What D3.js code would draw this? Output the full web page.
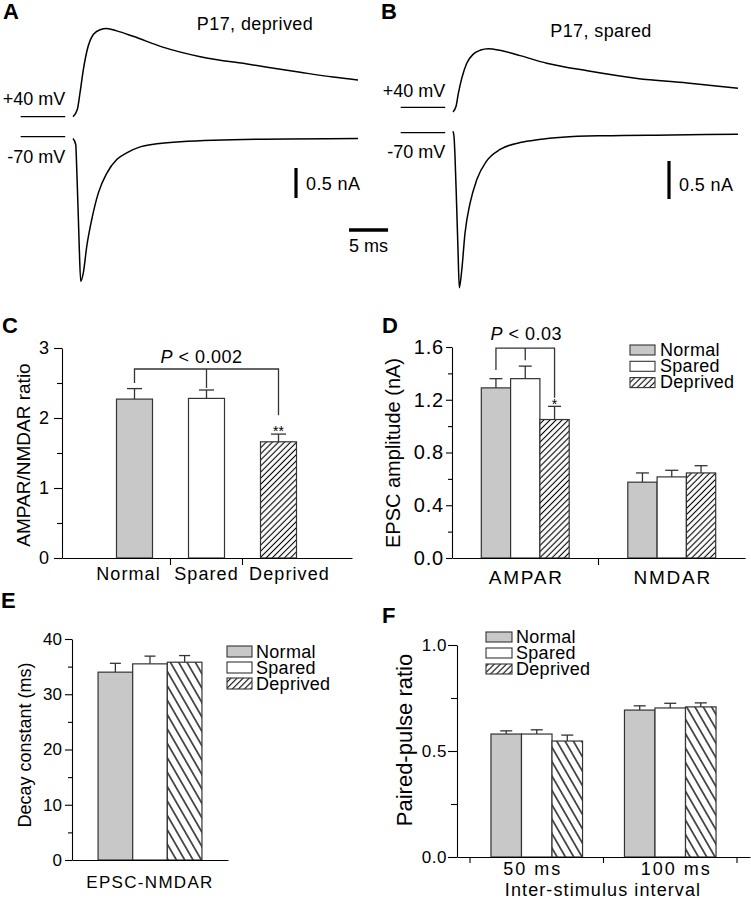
<!DOCTYPE html>
<html><head><meta charset="utf-8">
<script src="https://cdn.jsdelivr.net/npm/d3@7"></script>
<style>
body{margin:0;background:#fff}
svg{display:block}
text{font-family:Arial,"Liberation Sans",Helvetica,sans-serif;fill:#000}
</style>
</head><body>
<svg id="c" width="751" height="899"></svg>
<script>
// ---------------- DATA ----------------
const groups = ["Normal", "Spared", "Deprived"];

// Panel A traces: [time (ms), current (nA)]
const traceA_p40 = [[0,0],[0.55,0.12],[0.9,0.40],[1.32,0.78],[1.83,1.12],[2.6,1.37],[3.46,1.45],[4.32,1.47],[5.6,1.43],[7.7,1.34],[11.5,1.16],[16.3,1.0],[22.7,0.87],[29.1,0.74],[33.3,0.66],[36.5,0.61]];
const traceA_m70 = [[0,-0.03],[0.35,-0.13],[0.47,-0.50],[0.68,-1.33],[0.81,-1.88],[0.99,-2.41],[1.32,-2.27],[1.76,-1.83],[2.40,-1.38],[3.24,-0.94],[4.32,-0.61],[5.6,-0.38],[6.88,-0.27],[8.6,-0.17],[12.05,-0.10],[20.5,-0.05],[36.5,-0.03]];
// Panel B traces
const traceB_p40 = [[0,-0.06],[0.38,0.01],[0.68,0.18],[1.12,0.38],[1.76,0.58],[2.6,0.70],[3.46,0.75],[4.53,0.77],[6.0,0.75],[8.6,0.68],[12.0,0.58],[17.2,0.48],[23.6,0.38],[30.0,0.32],[36.5,0.25]];
const traceB_m70 = [[0,0.02],[0.13,-0.05],[0.26,-0.32],[0.47,-0.97],[0.64,-1.54],[0.81,-2.04],[1.12,-1.81],[1.54,-1.32],[2.18,-0.93],[3.04,-0.62],[4.32,-0.37],[6.03,-0.22],[8.6,-0.13],[11.0,-0.09],[14.0,-0.06],[19.3,-0.04],[28.0,-0.03],[36.5,-0.02]];
const preBaseline = [-6.7, -1.0]; // ms, pre-stimulus holding-current segment

// Panel C: AMPAR/NMDAR ratio
const ratioMean = [2.27, 2.28, 1.66];
const ratioSem  = [0.15, 0.12, 0.11];
const ratioTicks = [0, 1, 2, 3];

// Panel D: EPSC amplitude (nA)
const ampCats = ["AMPAR", "NMDAR"];
const ampMean = { AMPAR: [1.29, 1.36, 1.05], NMDAR: [0.575, 0.615, 0.645] };
const ampSem  = { AMPAR: [0.07, 0.095, 0.10], NMDAR: [0.07, 0.05, 0.055] };
const ampTicks = [0, 0.4, 0.8, 1.2, 1.6];

// Panel E: decay constant (ms)
const decayCats = ["EPSC-NMDAR"];
const decayMean = [34.0, 35.5, 35.8];
const decaySem  = [1.6, 1.4, 1.2];
const decayTicks = [0, 10, 20, 30, 40];

// Panel F: paired-pulse ratio
const ppCats = ["50 ms", "100 ms"];
const ppMean = { "50 ms": [0.58, 0.58, 0.547], "100 ms": [0.693, 0.703, 0.708] };
const ppSem  = { "50 ms": [0.015, 0.02, 0.028], "100 ms": [0.02, 0.022, 0.019] };
const ppTicks = [0, 0.5, 1.0];

// ---------------- DRAWING ----------------
const svg = d3.select("#c");
const defs = svg.append("defs");
function hatch(id, w, angle, sw) {
  const p = defs.append("pattern").attr("id", id).attr("patternUnits", "userSpaceOnUse")
    .attr("width", w).attr("height", w).attr("patternTransform", `rotate(${angle})`);
  p.append("rect").attr("width", w).attr("height", w).attr("fill", "#fff");
  p.append("line").attr("x1", w/2).attr("x2", w/2).attr("y1", -1).attr("y2", w+1)
    .attr("stroke", "#000").attr("stroke-width", sw);
}
hatch("hf", 4.3, 45, 1.1);
hatch("hb", 7.2, -30, 1.3);
const fillF = ["#c8c8c8", "#ffffff", "url(#hf)"];
const fillB = ["#c8c8c8", "#ffffff", "url(#hb)"];

function txt(g, x, y, s, o = {}) {
  const t = g.append("text").attr("x", x).attr("y", y).text(s)
    .attr("font-size", o.size || 18).attr("text-anchor", o.anchor || "start")
    .attr("font-weight", o.weight || "normal");
  if (o.ls) t.attr("letter-spacing", o.ls);
  if (o.rot) t.attr("transform", `rotate(-90,${x},${y})`);
  return t;
}

// ---- Panel letters
txt(svg, 3, 19, "A", { size: 22, weight: "bold" });
txt(svg, 381, 19, "B", { size: 22, weight: "bold" });
txt(svg, 2, 333, "C", { size: 22, weight: "bold" });
txt(svg, 382, 333, "D", { size: 22, weight: "bold" });
txt(svg, 1, 608, "E", { size: 22, weight: "bold" });
txt(svg, 382, 623, "F", { size: 22, weight: "bold" });

// ---- Trace panels
function tracePanel(cfg) {
  const g = svg.append("g");
  const x = d3.scaleLinear().domain([0, 36.5]).range(cfg.xr);
  const y = d3.scaleLinear().domain([0, 1]).range([0, -cfg.pxPerNA]);
  const line = d3.line().x(d => x(d[0])).y(d => y(d[1])).curve(d3.curveMonotoneX);
  [[cfg.p40, cfg.base40], [cfg.m70, cfg.base70]].forEach(([tr, base]) => {
    const gg = g.append("g").attr("transform", `translate(0,${base})`);
    gg.append("path").attr("d", line(tr)).attr("fill", "none").attr("stroke", "#000").attr("stroke-width", 1.5);
    gg.append("line").attr("x1", x(preBaseline[0])).attr("x2", x(preBaseline[1]))
      .attr("y1", y(0)).attr("y2", y(0)).attr("stroke", "#000").attr("stroke-width", 1.3);
  });
  txt(g, x(preBaseline[1]), cfg.lab40, "+40 mV", { anchor: "end", size: 18 });
  txt(g, x(preBaseline[1]), cfg.lab70, "-70 mV", { anchor: "end", size: 18 });
  txt(g, cfg.titleX, cfg.titleY, cfg.title, { anchor: "middle", size: 18, ls: 0.4 });
  // vertical scale bar 0.5 nA
  g.append("line").attr("x1", cfg.sbX).attr("x2", cfg.sbX)
    .attr("y1", cfg.sbY).attr("y2", cfg.sbY + (y(0) - y(0.5)))
    .attr("stroke", "#000").attr("stroke-width", 3.2);
  txt(g, cfg.sbX + 10, cfg.sbY + (y(0) - y(0.5)) - 8, "0.5 nA", { size: 18, ls: 0.4 });
  return { x, y, g };
}
const pA = tracePanel({ xr: [73, 358], pxPerNA: 60, p40: traceA_p40, m70: traceA_m70, base40: 116.7, base70: 136.7,
  lab40: 105, lab70: 163, title: "P17, deprived", titleX: 255, titleY: 30, sbX: 296, sbY: 168 });
tracePanel({ xr: [453, 738], pxPerNA: 76, p40: traceB_p40, m70: traceB_m70, base40: 107.3, base70: 132.7,
  lab40: 97, lab70: 158, title: "P17, spared", titleX: 601, titleY: 37, sbX: 669, sbY: 161 });
// horizontal 5 ms scale bar
svg.append("line").attr("x1", pA.x(35.35)).attr("x2", pA.x(40.35)).attr("y1", 230).attr("y2", 230)
  .attr("stroke", "#000").attr("stroke-width", 3.5);
txt(svg, (pA.x(35.35) + pA.x(40.35)) / 2, 252, "5 ms", { anchor: "middle", size: 18 });

// ---- helpers for bar panels
function styleAxis(sel, size, ls) {
  sel.select(".domain").attr("stroke", "#000").attr("stroke-width", 1.1);
  sel.selectAll(".tick line").attr("stroke", "#000").attr("stroke-width", 1.1);
  sel.selectAll(".tick text").attr("font-size", size).attr("font-family", 'Arial,"Liberation Sans",sans-serif').attr("fill", "#000");
  if (ls) sel.selectAll(".tick text").attr("letter-spacing", ls);
}
function yAxis(g, y, x0, ticks, minor, fmt, o) {
  const a = g.append("g").attr("transform", `translate(${x0},0)`)
    .call(d3.axisLeft(y).tickValues(ticks).tickFormat(fmt).tickSize(o.major).tickPadding(o.pad).tickSizeOuter(0));
  styleAxis(a, o.font, o.ls);
  const m = g.append("g").attr("transform", `translate(${x0},0)`)
    .call(d3.axisLeft(y).tickValues(minor).tickFormat("").tickSize(o.minor));
  m.select(".domain").remove();
  m.selectAll(".tick line").attr("stroke", "#000").attr("stroke-width", 1.1);
}
function xAxisLine(g, x0, x1, y0, ticksAt, tl) {
  const a = g.append("g").attr("transform", `translate(0,${y0})`)
    .call(d3.axisBottom(d3.scaleLinear().domain([0, 1]).range([x0, x1])).tickValues([]).tickSizeOuter(0));
  styleAxis(a, 12);
  ticksAt.forEach(t => g.append("line").attr("x1", t).attr("x2", t).attr("y1", y0).attr("y2", y0 + tl)
    .attr("stroke", "#000").attr("stroke-width", 1.1));
}
function bars(g, rows, y, capW, fills) {
  rows.forEach(r => {
    const cx = r.x + r.w / 2;
    g.append("line").attr("x1", cx).attr("x2", cx).attr("y1", y(r.m)).attr("y2", y(r.m + r.s))
      .attr("stroke", "#333").attr("stroke-width", 1.3);
    g.append("line").attr("x1", cx - capW / 2).attr("x2", cx + capW / 2).attr("y1", y(r.m + r.s)).attr("y2", y(r.m + r.s))
      .attr("stroke", "#333").attr("stroke-width", 1.3);
  });
  rows.forEach(r => {
    g.append("rect").attr("x", r.x).attr("y", y(r.m)).attr("width", r.w).attr("height", y(0) - y(r.m))
      .attr("fill", fills[r.i]).attr("stroke", "#333").attr("stroke-width", 1.2);
  });
}
function legend(g, x0, y0, dy, bw, bh, tx, size) {
  groups.forEach((s, i) => {
    g.append("rect").attr("x", x0).attr("y", y0 + i * dy).attr("width", bw).attr("height", bh)
      .attr("fill", fillF[i]).attr("stroke", "#333").attr("stroke-width", 1.1);
    txt(g, tx, y0 + i * dy + bh + 0.5, s, { size, ls: 0.3 });
  });
}

// ---- Panel C
{
  const g = svg.append("g");
  const y = d3.scaleLinear().domain([0, 3]).range([558, 348]);
  const x = d3.scaleBand().domain(groups).range([98.5, 314.5]).paddingInner(0.5).paddingOuter(0.25);
  const bw = x.bandwidth(), step = x.step();
  bars(g, groups.map((s, i) => ({ x: x(s), w: bw, m: ratioMean[i], s: ratioSem[i], i })), y, 15, fillF);
  yAxis(g, y, 62, ratioTicks, [0.5, 1.5, 2.5], d3.format("d"), { major: 8, minor: 5, pad: 5, font: 18 });
  xAxisLine(g, 62, 352, 558, groups.slice(0, 2).map(s => x(s) + bw + (step - bw) / 2), 7);
  const labShift = [-6, 0, 11];
  groups.forEach((s, i) => txt(g, x(s) + bw / 2 + labShift[i], 580, s, { anchor: "middle", size: 18, ls: 1.1 }));
  txt(g, 30, 455, "AMPAR/NMDAR ratio", { anchor: "middle", size: 19, rot: true });
  // significance bracket
  const c = groups.map(s => x(s) + bw / 2);
  const top = 2.7, ends = [2.5, 2.43, 2.04];
  g.append("path").attr("fill", "none").attr("stroke", "#333").attr("stroke-width", 1.3)
    .attr("d", `M${c[0]},${y(ends[0])}V${y(top)}H${c[2]}V${y(ends[2])}M${c[1]},${y(top)}V${y(ends[1])}`);
  const t = txt(g, c[1] - 5, 363, "", { anchor: "middle", size: 18, ls: 0.5 });
  t.append("tspan").attr("font-style", "italic").text("P");
  t.append("tspan").text(" < 0.002");
  txt(g, c[2], 436, "**", { anchor: "middle", size: 14 });
}

// ---- Panel D
{
  const g = svg.append("g");
  const y = d3.scaleLinear().domain([0, 1.6]).range([558, 347]);
  const x0 = d3.scaleBand().domain(ampCats).range([452, 745]);
  const st = x0.step();
  const x1 = d3.scaleBand().domain(groups).range([st * 0.2, st * 0.8]);
  const rows = [];
  ampCats.forEach(c => groups.forEach((s, i) => rows.push({ x: x0(c) + x1(s), w: x1.bandwidth(), m: ampMean[c][i], s: ampSem[c][i], i })));
  bars(g, rows, y, 13, fillF);
  yAxis(g, y, 452, ampTicks, [0.2, 0.6, 1.0, 1.4], d3.format(".1f"), { major: 6, minor: 4, pad: 2, font: 20, ls: 0.8 });
  xAxisLine(g, 452, 745, 558, [x0(ampCats[1])], 7);
  ampCats.forEach(c => txt(g, x0(c) + st / 2 + 1, 584, c, { anchor: "middle", size: 19, ls: 1.8 }));
  txt(g, 400, 453, "EPSC amplitude (nA)", { anchor: "middle", size: 20, rot: true });
  legend(g, 630, 345, 16.3, 25, 10, 660, 18);
  const c = groups.map(s => x0("AMPAR") + x1(s) + x1.bandwidth() / 2);
  const top = 1.592, ends = [1.425, 1.50, 1.215];
  g.append("path").attr("fill", "none").attr("stroke", "#333").attr("stroke-width", 1.3)
    .attr("d", `M${c[0]},${y(ends[0])}V${y(top)}H${c[2]}V${y(ends[2])}M${c[1]},${y(top)}V${y(ends[1])}`);
  const t = txt(g, c[1] + 1, 340, "", { anchor: "middle", size: 18, ls: 0.5 });
  t.append("tspan").attr("font-style", "italic").text("P");
  t.append("tspan").text(" < 0.03");
  txt(g, c[2], 409, "*", { anchor: "middle", size: 14 });
}

// ---- Panel E
{
  const g = svg.append("g");
  const y = d3.scaleLinear().domain([0, 40]).range([860, 639]);
  const x0 = d3.scaleBand().domain(decayCats).range([72, 228]);
  const st = x0.step();
  const x1 = d3.scaleBand().domain(groups).range([st * 0.167, st * 0.833]);
  bars(g, groups.map((s, i) => ({ x: x0(decayCats[0]) + x1(s), w: x1.bandwidth(), m: decayMean[i], s: decaySem[i], i })), y, 11, fillB);
  yAxis(g, y, 72, decayTicks, [5, 15, 25, 35], d3.format("d"), { major: 7, minor: 4, pad: 3, font: 17 });
  xAxisLine(g, 72, 228, 860, [], 0);
  txt(g, x0(decayCats[0]) + st / 2, 888, decayCats[0], { anchor: "middle", size: 17, ls: 1.3 });
  txt(g, 31, 745, "Decay constant (ms)", { anchor: "middle", size: 18, rot: true });
  legend(g, 227, 646, 16, 25, 11, 256, 18);
}

// ---- Panel F
{
  const g = svg.append("g");
  const y = d3.scaleLinear().domain([0, 1]).range([857, 645]);
  const x0 = d3.scaleBand().domain(ppCats).range([470, 737]);
  const st = x0.step();
  const x1 = d3.scaleBand().domain(groups).range([st * 0.157, st * 0.843]);
  const rows = [];
  ppCats.forEach(c => groups.forEach((s, i) => rows.push({ x: x0(c) + x1(s), w: x1.bandwidth(), m: ppMean[c][i], s: ppSem[c][i], i })));
  bars(g, rows, y, 12, fillB);
  yAxis(g, y, 457, ppTicks, [0.25, 0.75], d3.format(".1f"), { major: 9, minor: 6, pad: 1, font: 17, ls: 0.5 });
  xAxisLine(g, 457, 750, 857, [x0(ppCats[0]), x0(ppCats[1]), x0(ppCats[1]) + st], 6);
  ppCats.forEach((c, i) => txt(g, x0(c) + st / 2 + (i ? 6 : -4), 875, c, { anchor: "middle", size: 18, ls: 2 }));
  txt(g, 603, 896, "Inter-stimulus interval", { anchor: "middle", size: 18, ls: 1.1 });
  txt(g, 412, 740, "Paired-pulse ratio", { anchor: "middle", size: 22, rot: true });
  legend(g, 486, 632, 16, 26, 10, 516, 18);
}
</script>
</body></html>
